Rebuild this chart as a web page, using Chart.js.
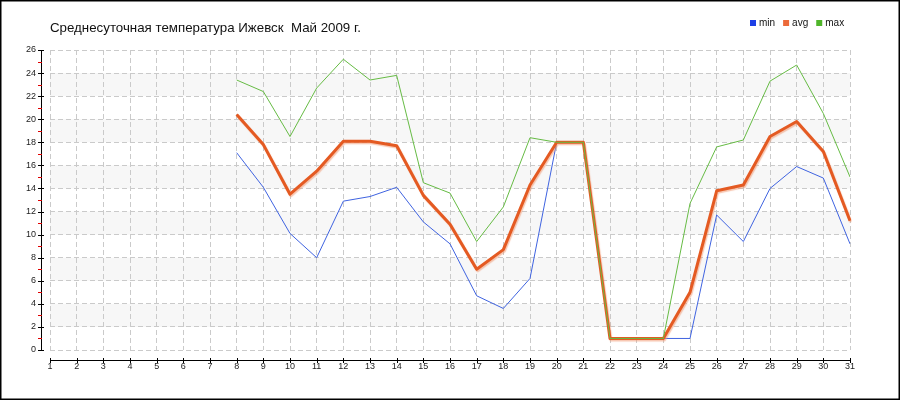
<!DOCTYPE html>
<html>
<head>
<meta charset="utf-8">
<script src="https://cdn.jsdelivr.net/npm/chart.js@4/dist/chart.umd.min.js"></script>
<style>
body { margin: 0; background: #fff; }
</style>
</head>
<body>
<canvas id="chartTemp" width="900" height="400"></canvas>
<script>
const chartTitle = 'Среднесуточная температура Ижевск  Май 2009 г.';
const days = ['1','2','3','4','5','6','7','8','9','10','11','12','13','14','15','16',
              '17','18','19','20','21','22','23','24','25','26','27','28','29','30','31'];
const tempMin = [null, null, null, null, null, null, null,
    17.1, 14.1, 10.1, 8.0, 12.9, 13.3, 14.1, 11.1, 9.2, 4.7, 3.6, 6.2,
    18.0, 18.0, 1.0, 1.0, 1.0, 1.0, 11.7, 9.4, 14.0, 15.9, 14.9, 9.2];
const tempAvg = [null, null, null, null, null, null, null,
    20.4, 17.8, 13.5, 15.5, 18.1, 18.1, 17.7, 13.4, 10.9, 7.0, 8.7, 14.3,
    18.0, 18.0, 1.0, 1.0, 1.0, 5.0, 13.8, 14.3, 18.5, 19.8, 17.2, 11.2];
const tempMax = [null, null, null, null, null, null, null,
    23.4, 22.4, 18.5, 22.7, 25.2, 23.4, 23.8, 14.5, 13.6, 9.4, 12.4, 18.4,
    18.0, 18.0, 1.0, 1.0, 1.0, 12.7, 17.6, 18.2, 23.3, 24.7, 20.5, 15.0];

const tickFont = { family: 'Liberation Sans', size: 9 };

// фон, полосы, оси со смещением, заголовок и легенда
const decor = {
    id: 'decor',
    beforeDraw(chart) {
        const { ctx, chartArea: a, scales: { y } } = chart;
        ctx.save();
        ctx.fillStyle = '#fff';
        ctx.fillRect(0, 0, chart.width, chart.height);
        ctx.fillStyle = '#f7f7f7';
        for (let v = 2; v < 26; v += 4) {
            const y1 = y.getPixelForValue(v + 2), y2 = y.getPixelForValue(v);
            ctx.fillRect(a.left, y1, a.right - a.left, y2 - y1);
        }
        ctx.restore();
    },
    beforeDatasetDraw(chart, args) {
        if (args.index === 1) {
            const ctx = chart.ctx;
            ctx.save();
            ctx.shadowColor = 'rgba(240,150,110,0.55)';
            ctx.shadowOffsetX = 1;
            ctx.shadowOffsetY = 1.5;
            ctx.shadowBlur = 1;
        }
    },
    afterDatasetDraw(chart, args) {
        if (args.index === 1) chart.ctx.restore();
    },
    afterDraw(chart) {
        const { ctx, chartArea: a, scales: { x, y } } = chart;
        ctx.save();
        // ось Y
        const ax = a.left - 9;
        ctx.strokeStyle = '#000';
        ctx.lineWidth = 1;
        ctx.beginPath();
        ctx.moveTo(ax + 0.5, a.top);
        ctx.lineTo(ax + 0.5, a.bottom);
        for (let v = 0; v <= 26; v += 2) {
            const py = Math.round(y.getPixelForValue(v)) + 0.5;
            ctx.moveTo(ax - 3, py);
            ctx.lineTo(ax + 3, py);
        }
        ctx.stroke();
        ctx.strokeStyle = '#e00000';
        ctx.beginPath();
        for (let v = 1; v < 26; v += 2) {
            const py = Math.round(y.getPixelForValue(v)) + 0.5;
            ctx.moveTo(ax - 3, py);
            ctx.lineTo(ax + 1, py);
        }
        ctx.stroke();
        // ось X
        const ay = a.bottom + 10;
        ctx.strokeStyle = '#000';
        ctx.beginPath();
        ctx.moveTo(a.left, ay + 0.5);
        ctx.lineTo(a.right, ay + 0.5);
        for (let i = 0; i < days.length; i++) {
            const px = Math.round(x.getPixelForValue(i)) + 0.5;
            ctx.moveTo(px, ay - 2);
            ctx.lineTo(px, ay + 3);
        }
        ctx.stroke();
        // заголовок
        ctx.fillStyle = '#111';
        ctx.font = '13.3px "Liberation Sans"';
        ctx.textBaseline = 'middle';
        ctx.textAlign = 'left';
        ctx.fillText(chartTitle, 50, 28);
        // легенда
        ctx.font = '10px "Liberation Sans"';
        let lx = 750;
        chart.data.datasets.forEach(ds => {
            ctx.fillStyle = ds.legendColor;
            ctx.fillRect(lx, 20, 6, 6);
            ctx.fillStyle = '#111';
            ctx.fillText(ds.label, lx + 9, 23);
            lx += 9 + ctx.measureText(ds.label).width + 8;
        });
        // рамка
        ctx.strokeStyle = '#000';
        ctx.lineWidth = 1.5;
        ctx.strokeRect(0.75, 0.75, chart.width - 1.5, chart.height - 1.5);
        ctx.restore();
    }
};

new Chart(document.getElementById('chartTemp'), {
    type: 'line',
    data: {
        labels: days,
        datasets: [{
            label: 'min',
            data: tempMin,
            borderColor: '#3f63e0',
            legendColor: '#1d3fe6',
            borderWidth: 1,
            order: 2
        }, {
            label: 'avg',
            data: tempAvg,
            borderColor: '#e45a22',
            legendColor: '#ec6a3a',
            borderWidth: 3,
            order: 1
        }, {
            label: 'max',
            data: tempMax,
            borderColor: '#66bb44',
            legendColor: '#4fb52a',
            borderWidth: 1,
            order: 0
        }]
    },
    options: {
        responsive: false,
        animation: false,
        devicePixelRatio: 1,
        layout: { padding: { top: 50, right: 50, left: 0, bottom: 0 } },
        elements: {
            point: { radius: 0 },
            line: { tension: 0, borderJoinStyle: 'round' }
        },
        plugins: {
            legend: { display: false },
            title: { display: false },
            tooltip: { enabled: false }
        },
        scales: {
            x: {
                offset: false,
                afterFit: s => { s.height = 50; },
                border: { display: false, dash: [5, 3] },
                grid: { color: '#cacaca', drawTicks: false },
                ticks: { color: '#222', font: tickFont, padding: 11, maxRotation: 0, autoSkip: false }
            },
            y: {
                min: 0,
                max: 26,
                afterFit: s => { s.width = 50; },
                border: { display: false, dash: [5, 3] },
                grid: { color: '#cacaca', drawTicks: false },
                ticks: { stepSize: 2, color: '#222', font: tickFont, padding: 14 }
            }
        }
    },
    plugins: [decor]
});
</script>
</body>
</html>
